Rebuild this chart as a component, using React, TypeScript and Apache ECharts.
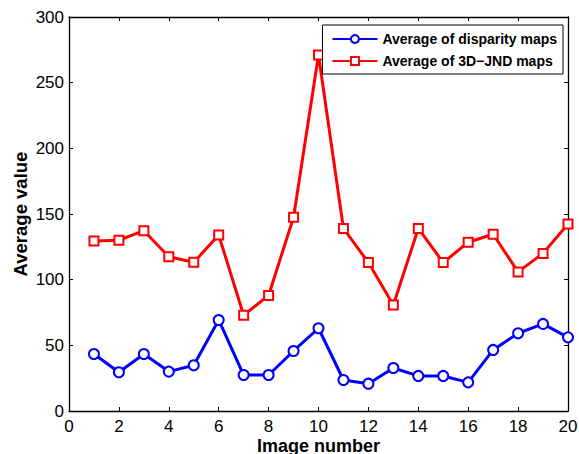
import React, { useEffect, useRef } from "react";
import * as echarts from "echarts";

const imageNumbers = [1, 2, 3, 4, 5, 6, 7, 8, 9, 10, 11, 12, 13, 14, 15, 16, 17, 18, 19, 20];
const disparityAvg = [43.4, 29.5, 43.4, 30, 34.8, 69.3, 27.4, 27.4, 45.7, 63, 23.6, 20.8, 32.7, 26.7, 26.7, 21.8, 46.5, 59.2, 66.3, 56.1];
const jndAvg = [129.5, 130, 137.3, 117.5, 113.2, 134, 72.9, 88, 147.5, 271, 139, 113, 80.7, 139, 113, 128.5, 134.6, 105.9, 120, 142.4];

const font = "'Liberation Sans', Arial, sans-serif";
const mkLine = () => ({ show: true, onZero: false, lineStyle: { color: "#000", width: 1.3 } });
const mkTick = () => ({ show: true, inside: true, length: 4, lineStyle: { color: "#000", width: 1 } });

export default function App() {
  const ref = useRef<HTMLDivElement>(null);
  useEffect(() => {
    if (!ref.current) return;
    const chart = echarts.init(ref.current, undefined, { renderer: "svg" });
    chart.setOption({
      animation: false,
      backgroundColor: "#fff",
      grid: { left: 69, right: 11, top: 17, bottom: 43, containLabel: false, outerBoundsMode: "none" },
      legend: {
        right: 16,
        top: 25,
        orient: "vertical",
        backgroundColor: "#fff",
        borderColor: "#000",
        borderWidth: 1,
        borderRadius: 0,
        padding: [7, 6, 6, 9],
        itemGap: 8,
        itemWidth: 45,
        itemHeight: 10,
        textStyle: { fontFamily: font, fontWeight: "bold", fontSize: 14, color: "#000" },
        data: ["Average of disparity maps", "Average of 3D\u2212JND maps"],
      },
      xAxis: [
        {
          type: "value",
          position: "bottom",
          min: 0,
          max: 20,
          interval: 2,
          name: "Image number",
          nameLocation: "middle",
          nameGap: 26,
          nameMoveOverlap: false,
          nameTextStyle: { fontFamily: font, fontWeight: "bold", fontSize: 18, color: "#000" },
          axisLine: mkLine(),
          axisTick: mkTick(),
          splitLine: { show: false },
          axisLabel: { fontFamily: font, fontSize: 17, color: "#000", margin: 7 },
        },
        {
          type: "value",
          position: "top",
          min: 0,
          max: 20,
          interval: 2,
          axisLine: mkLine(),
          axisTick: mkTick(),
          splitLine: { show: false },
          axisLabel: { show: false },
        },
      ],
      yAxis: [
        {
          type: "value",
          position: "left",
          min: 0,
          max: 300,
          interval: 50,
          name: "Average value",
          nameLocation: "middle",
          nameGap: 39,
          nameMoveOverlap: false,
          nameTextStyle: { fontFamily: font, fontWeight: "bold", fontSize: 18.5, color: "#000" },
          axisLine: mkLine(),
          axisTick: mkTick(),
          splitLine: { show: false },
          axisLabel: { fontFamily: font, fontSize: 17, color: "#000", margin: 5 },
        },
        {
          type: "value",
          position: "right",
          min: 0,
          max: 300,
          interval: 50,
          axisLine: mkLine(),
          axisTick: mkTick(),
          splitLine: { show: false },
          axisLabel: { show: false },
        },
      ],
      series: [
        {
          name: "Average of disparity maps",
          type: "line",
          data: imageNumbers.map((x, i) => [x, disparityAvg[i]]),
          symbol: "emptyCircle",
          symbolSize: 10,
          lineStyle: { color: "#0000ff", width: 3 },
          itemStyle: { color: "#0000ff", borderColor: "#0000ff", borderWidth: 2.5 },
        },
        {
          name: "Average of 3D\u2212JND maps",
          type: "line",
          data: imageNumbers.map((x, i) => [x, jndAvg[i]]),
          symbol: "emptyRect",
          symbolSize: 9,
          lineStyle: { color: "#ff0000", width: 3 },
          itemStyle: { color: "#ff0000", borderColor: "#ff0000", borderWidth: 2.5 },
        },
      ],
    });
    return () => chart.dispose();
  }, []);
  return <div ref={ref} style={{ position: "absolute", left: 0, top: 0, width: 579, height: 454 }} />;
}
